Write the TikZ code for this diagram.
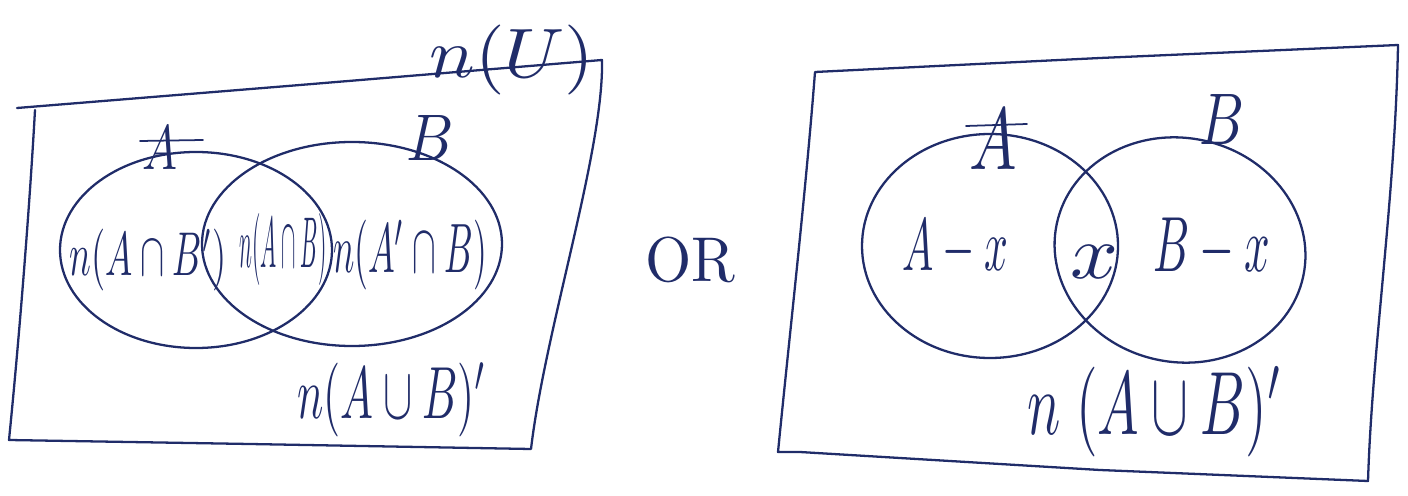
\documentclass[tikz,border=0pt]{standalone}
\usetikzlibrary{calc}
\definecolor{ink}{RGB}{32,44,105}
\newcommand{\hw}[3]{\resizebox*{#1}{#2}{#3}}
\tikzset{
  pen/.style={draw=ink, line width=1.3pt, line cap=round, line join=round},
  lbl/.style={text=ink, inner sep=0pt}
}
\begin{document}
\begin{tikzpicture}[x=0.02cm,y=-0.02cm]
\useasboundingbox (0,0) rectangle (1408,496);
% ---- left universe box
\draw[pen] (17,108) -- (300,85) -- (602,60) .. controls (604,150) and (545,330) .. (531,449)
  -- (250,444) -- (9,440) .. controls (20,330) and (30,200) .. (35,110);
% left Venn circles
\draw[pen] (196,250) ellipse [x radius=136, y radius=98];
\draw[pen] (352,244) ellipse [x radius=150, y radius=102];
% left labels
\node[lbl] (lA) at (160,148) {\hw{0.7cm}{0.86cm}{$A$}};
\draw[pen, line width=1pt] (140,141) -- (203,140);
\node[lbl] (lB) at (430,138) {\hw{0.95cm}{0.9cm}{$B$}};
\node[lbl] (lU) at (512,60) {\hw{3.3cm}{1.4cm}{$n(U)$}};
\node[lbl] (l1) at (148,260) {\hw{3.14cm}{1.24cm}{$n(A\cap B')$}};
\node[lbl] (l2) at (283,250) {\hw{1.74cm}{1.44cm}{$n(A\cap B)$}};
\node[lbl] (l3) at (410,255) {\hw{3.08cm}{1.4cm}{$n(A'\cap B)$}};
\node[lbl] (l4) at (392,400) {\hw{3.8cm}{1.48cm}{$n(A\cup B)'$}};
% OR
\node[lbl] (or) at (690,260) {\hw{1.8cm}{0.92cm}{OR}};
% ---- right universe box
\draw[pen] (815,72) -- (1100,58) -- (1398,45) .. controls (1395,200) and (1372,350) .. (1368,481)
  -- (1100,470) -- (800,452) -- (778,452) .. controls (790,330) and (805,200) .. (815,72);
% right Venn circles
\draw[pen] (990,246) ellipse [x radius=128, y radius=112];
\draw[pen, rotate around={-12:(1180,250)}] (1180,250) ellipse [x radius=126, y radius=112];
% right labels
\node[lbl] (rA) at (993,140) {\hw{0.95cm}{1.2cm}{$A$}};
\draw[pen, line width=1pt] (966,126) -- (1027,124);
\node[lbl] (rB) at (1222,120) {\hw{0.9cm}{1.0cm}{$B$}};
\node[lbl] (r1) at (955,248) {\hw{2.12cm}{1.14cm}{$A-x$}};
\node[lbl] (r2) at (1094,262) {\hw{0.96cm}{0.66cm}{$x$}};
\node[lbl] (r3) at (1212,248) {\hw{2.34cm}{1.2cm}{$B-x$}};
\node[lbl] (r4) at (1155,412) {\hw{5.1cm}{1.8cm}{$n\;(A\cup B)'$}};
\end{tikzpicture}
\end{document}
